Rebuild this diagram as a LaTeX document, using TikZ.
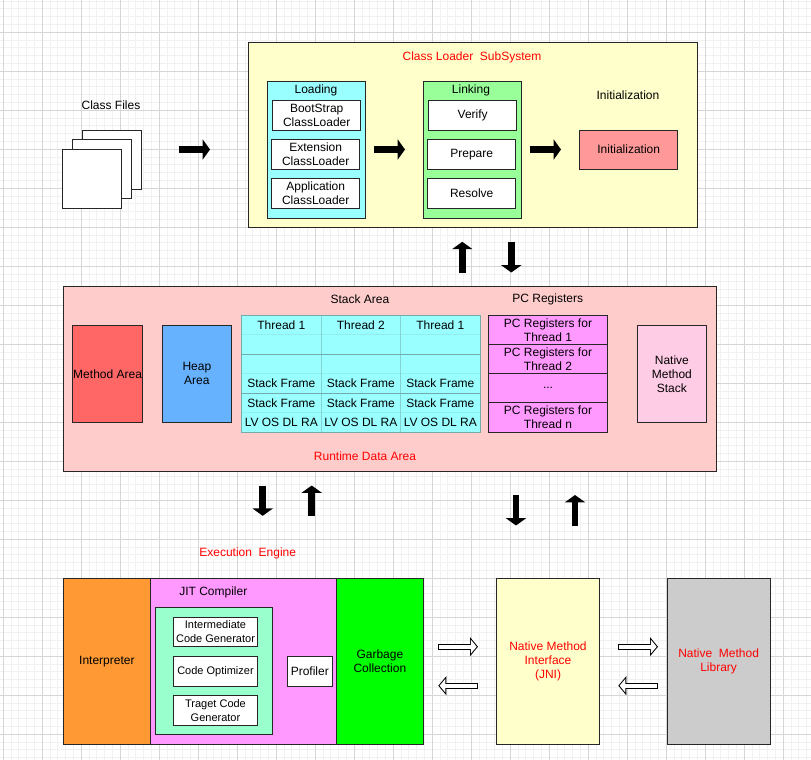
\documentclass[tikz,border=0pt]{standalone}
\usepackage{fontspec}
\setmainfont{Liberation Sans}
\usetikzlibrary{arrows.meta}

\newlength\unitpx
\setlength\unitpx{.75pt}

\tikzset{
  x=.75pt,y=-.75pt,
  every node/.style={font=\fontsize{9}{10.5}\selectfont,align=center,inner sep=0pt,outer sep=0pt},
  boxsize/.style 2 args={minimum width=#1\unitpx,minimum height=#2\unitpx},
  box/.style={draw=black!85,line width=.75pt,anchor=north west},
  title/.style={text=red},
  cell/.style={draw=cellline,line width=.75pt,fill=cyanfill,boxsize={79.3}{19.5},anchor=north west},
  small/.style={font=\fontsize{8.25}{10.5}\selectfont},
  blackarrow/.style={line width=5pt,-{Triangle[length=5.5pt,width=15pt]}},
  hollowarrow/.style={line width=4.5pt,-{Triangle[length=6pt,width=14pt]},
    postaction={draw=white,line width=3pt,shorten <=.75pt,shorten >=1pt,-{Triangle[length=4.26pt,width=9.94pt]}}},
}
\definecolor{cyanfill}{HTML}{99FFFF}
\definecolor{cellline}{HTML}{90EEEE}
\definecolor{cellcolumn}{HTML}{84D2D2}
\definecolor{cellstrong}{HTML}{74ABAB}
\definecolor{yellowfill}{HTML}{FFFFCC}
\definecolor{greenfill}{HTML}{99FF99}
\definecolor{salmonfill}{HTML}{FF9999}
\definecolor{pinkfill}{HTML}{FFCCCC}
\definecolor{redfill}{HTML}{FF6666}
\definecolor{bluefill}{HTML}{66B2FF}
\definecolor{magentafill}{HTML}{FF99FF}
\definecolor{rosefill}{HTML}{FFCCE6}
\definecolor{orangefill}{HTML}{FF9933}
\definecolor{mintfill}{HTML}{99FFCC}
\definecolor{grayfill}{HTML}{CCCCCC}
\definecolor{gridminor}{HTML}{F1F1F1}
\definecolor{gridmajor}{HTML}{D6D6D6}

\begin{document}
\begin{tikzpicture}
\useasboundingbox[fill=white] (0,0) rectangle (811,760);
\draw[gridminor,line width=.75pt,step=5.85pt,shift={(3.3,-6.7)}] (-10,-10) grid (820,780);
\draw[gridmajor,line width=.75pt,step=29.25pt,shift={(3.3,-6.7)}] (-10,-10) grid (820,780);

\node (filesLabel) at (111,105.7) {Class Files};
\node[box,fill=white,boxsize={59}{59}] (fileBack) at (82.3,130) {};
\node[box,fill=white,boxsize={59}{59}] (fileMiddle) at (72.5,139.7) {};
\node[box,fill=white,boxsize={59}{59}] (fileFront) at (62.7,149.3) {};

\node[box,fill=yellowfill,boxsize={449}{184.5}] (classLoader) at (248,42.7) {};
\node[title] (classLoaderTitle) at (472,57) {Class Loader~~SubSystem};

\node[box,fill=cyanfill,boxsize={97.5}{136.5}] (loading) at (267.7,81.7) {};
\node (loadingLabel) at (316,90.7) {Loading};
\node[box,fill=white,boxsize={88}{29.5}] (bootstrap) at (272.7,100.7) {BootStrap\\ClassLoader};
\node[box,fill=white,boxsize={88}{29.5}] (extension) at (271.7,139.7) {Extension\\ClassLoader};
\node[box,fill=white,boxsize={88}{29.5}] (application) at (271.7,178.7) {Application\\ClassLoader};

\node[box,fill=greenfill,boxsize={98}{136.5}] (linking) at (423.7,81.7) {};
\node (linkingLabel) at (471,90.7) {Linking};
\node[box,fill=white,boxsize={88}{29.5}] (verify) at (428.7,100.7) {Verify};
\node[box,fill=white,boxsize={88}{29.5}] (prepare) at (427.7,139.7) {Prepare};
\node[box,fill=white,boxsize={88}{29.5}] (resolve) at (427.7,178.7) {Resolve};

\node (initLabel) at (628,95) {Initialization};
\node[box,fill=salmonfill,boxsize={98}{39}] (init) at (579.7,130) {Initialization};

\node[box,fill=pinkfill,boxsize={653}{185}] (runtime) at (63.3,286) {};
\node[title] (runtimeTitle) at (365,456.5) {Runtime Data Area};
\node[box,fill=redfill,boxsize={69.8}{97.7}] (methodArea) at (72.7,325) {Method Area};
\node[box,fill=bluefill,boxsize={69.7}{97.7}] (heapArea) at (162,325) {Heap\\Area};

\node (stackLabel) at (360,299.7) {Stack Area};
\foreach \col/\xpos/\thread in {a/241.7/1,b/321.2/2,c/400.7/1}{
  \node[cell] (\col1) at (\xpos,315.3) {Thread \thread};
  \node[cell] (\col2) at (\xpos,334.8) {};
  \node[cell] (\col3) at (\xpos,354.3) {};
  \node[cell] (\col4) at (\xpos,373.8) {Stack Frame};
  \node[cell] (\col5) at (\xpos,393.3) {Stack Frame};
  \node[cell] (\col6) at (\xpos,412.8) {LV OS DL RA};
}
\draw[cellcolumn,line width=.75pt] (b1.north west) -- (b6.south west);
\draw[cellcolumn,line width=.75pt] (b1.north east) -- (b6.south east);
\draw[cellstrong,line width=.75pt] (a2.south west) -- (c2.south east);
\draw[cellstrong,line width=.75pt] (a4.south west) -- (c4.south east);
\draw[cellstrong,line width=.75pt] (a1.north west) rectangle (c6.south east);

\node (pcLabel) at (547.7,299.7) {PC Registers};
\node[box,fill=magentafill,boxsize={118.6}{29.2}] (pc1) at (488.7,315.3) {PC Registers for\\Thread 1};
\node[box,fill=magentafill,boxsize={118.6}{29.2}] (pc2) at (488.7,344.5) {PC Registers for\\Thread 2};
\node[box,fill=magentafill,boxsize={118.6}{29.2}] (pcDots) at (488.7,373.7) {...};
\node[box,fill=magentafill,boxsize={118.6}{29.2}] (pcn) at (488.7,402.9) {PC Registers for\\Thread n};

\node[box,fill=rosefill,boxsize={69.7}{97.7}] (nativeStack) at (637,325) {Native\\Method\\Stack};

\node[title] (engineTitle) at (247.7,553.7) {Execution~~Engine};
\node[box,fill=orangefill,boxsize={87.7}{165.3}] (interpreter) at (63,578.7) {Interpreter};
\node[box,fill=magentafill,boxsize={185.3}{165.3}] (jit) at (150.7,578.7) {};
\node (jitLabel) at (213.3,592.7) {JIT Compiler};
\node[box,fill=mintfill,boxsize={116.6}{126.6}] (jitInner) at (155.7,607.7) {};
\node[box,small,fill=white,boxsize={84.4}{29.5}] (intermediate) at (173.3,617.3) {Intermediate\\Code Generator};
\node[box,small,fill=white,boxsize={84.4}{29.5}] (optimizer) at (173.3,656.7) {Code Optimizer};
\node[box,small,fill=white,boxsize={84.4}{29.5}] (target) at (173.3,695.5) {Traget Code\\Generator};
\node[box,fill=white,boxsize={45}{29.5}] (profiler) at (287.3,656.7) {Profiler};
\node[box,fill=green,boxsize={87.7}{165.3}] (garbage) at (336,578.7) {Garbage\\Collection};

\node[box,text=red,fill=yellowfill,boxsize={102.6}{165.3}] (jni) at (496.7,578.7) {Native Method\\Interface~\\(JNI)};
\node[box,text=red,fill=grayfill,boxsize={102.7}{165.3}] (library) at (667.3,578.7) {Native~~Method\\Library};

\coordinate (filesOutA) at (179.3,149.5);
\coordinate (filesOutB) at (210,149.5);
\coordinate (loadOutA) at (374.3,149.5);
\coordinate (loadOutB) at (405,149.5);
\coordinate (linkOutA) at (530.3,149.5);
\coordinate (linkOutB) at (561,149.5);
\coordinate (loaderUpA) at (462.3,272.5);
\coordinate (loaderUpB) at (462.3,241.8);
\coordinate (loaderDownA) at (511.3,241.8);
\coordinate (loaderDownB) at (511.3,272.5);
\coordinate (engineDownA) at (262.7,485.5);
\coordinate (engineDownB) at (262.7,515.8);
\coordinate (engineUpA) at (311.7,515.8);
\coordinate (engineUpB) at (311.7,485.5);
\coordinate (nativeDownA) at (516,495);
\coordinate (nativeDownB) at (516,525.5);
\coordinate (nativeUpA) at (575,525.5);
\coordinate (nativeUpB) at (575,495);
\coordinate (jniInA) at (438.3,646.7);
\coordinate (jniInB) at (478,646.7);
\coordinate (jniOutA) at (478,685.7);
\coordinate (jniOutB) at (438.3,685.7);
\coordinate (libInA) at (618.3,646.7);
\coordinate (libInB) at (658,646.7);
\coordinate (libOutA) at (658,685.7);
\coordinate (libOutB) at (618.3,685.7);

\draw[blackarrow] (filesOutA) -- (filesOutB);
\draw[blackarrow] (loadOutA) -- (loadOutB);
\draw[blackarrow] (linkOutA) -- (linkOutB);
\draw[blackarrow] (loaderUpA) -- (loaderUpB);
\draw[blackarrow] (loaderDownA) -- (loaderDownB);
\draw[blackarrow] (engineDownA) -- (engineDownB);
\draw[blackarrow] (engineUpA) -- (engineUpB);
\draw[blackarrow] (nativeDownA) -- (nativeDownB);
\draw[blackarrow] (nativeUpA) -- (nativeUpB);
\draw[hollowarrow] (jniInA) -- (jniInB);
\draw[hollowarrow] (jniOutA) -- (jniOutB);
\draw[hollowarrow] (libInA) -- (libInB);
\draw[hollowarrow] (libOutA) -- (libOutB);
\end{tikzpicture}
\end{document}
